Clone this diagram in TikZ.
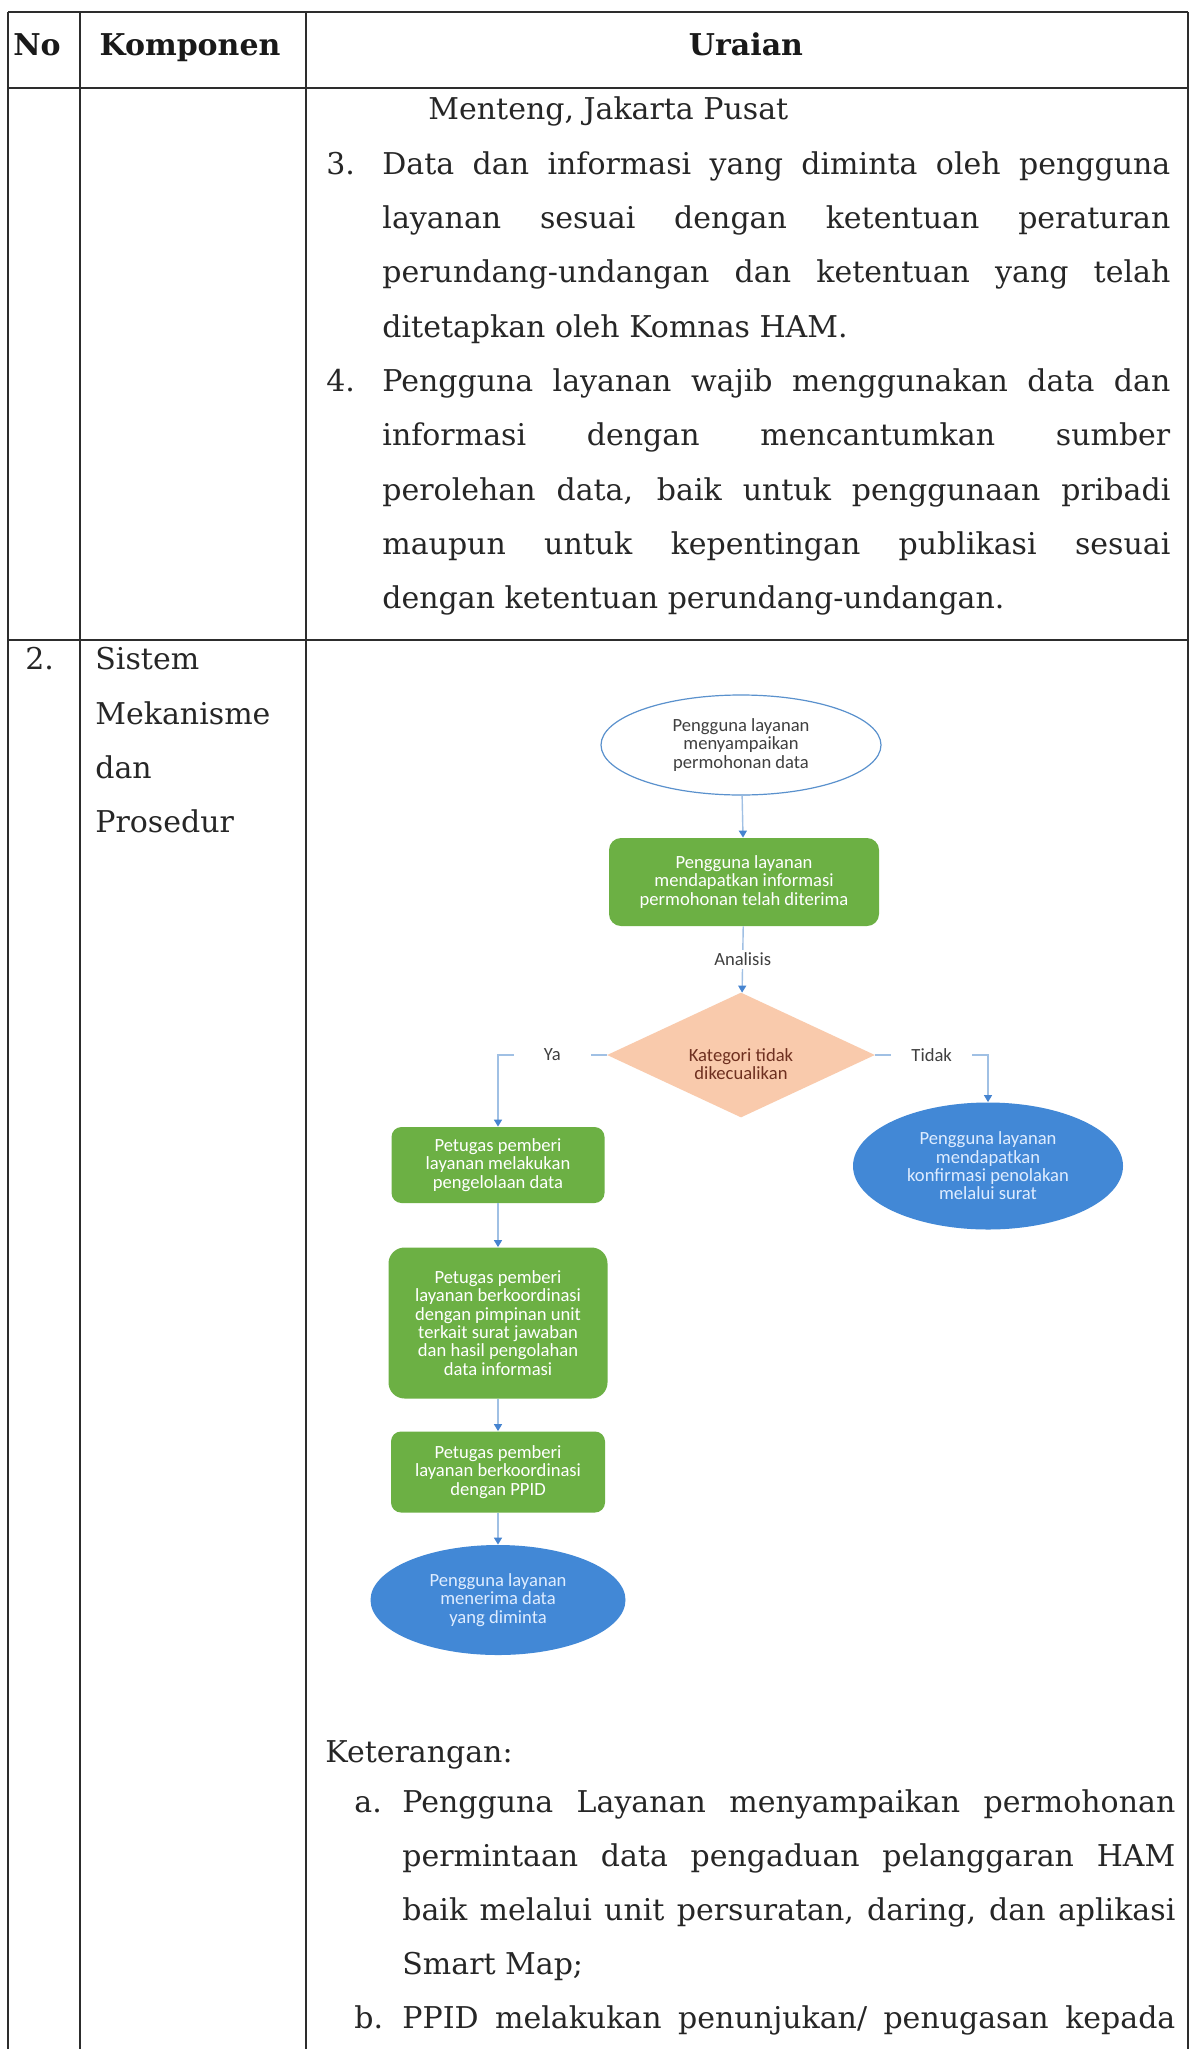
\documentclass[tikz,border=0pt]{standalone}
\usepackage{fontspec}
\setmainfont{DejaVu Serif}
\newfontfamily\flowfont{Carlito}
\usetikzlibrary{shapes.geometric,arrows.meta,calc}
\definecolor{tline}{RGB}{45,45,45}
\definecolor{fgreen}{RGB}{108,176,68}
\definecolor{peach}{RGB}{249,202,172}
\definecolor{dbrown}{RGB}{110,48,32}
\definecolor{fblue}{RGB}{66,136,214}
\definecolor{fbluetext}{RGB}{222,236,255}
\definecolor{outblue}{RGB}{90,145,205}
\definecolor{connc}{RGB}{160,192,228}
\definecolor{arrc}{RGB}{70,132,208}
\definecolor{labgray}{RGB}{64,64,64}
\newcommand{\jl}[1]{\makebox[394pt][s]{#1}}
\newcommand{\jk}[1]{\makebox[386.5pt][s]{#1}}
\begin{document}
\begin{tikzpicture}[x=0.5pt,y=-0.5pt,
  tab/.style={draw=tline,line width=0.9pt},
  body/.style={anchor=base west,inner sep=0pt,font=\fontsize{15}{18}\selectfont,text=black!85},
  head/.style={anchor=base,inner sep=0pt,font=\bfseries\fontsize{15}{18}\selectfont,text=black!90},
  flow/.style={font=\flowfont\fontsize{9.3}{9.15}\selectfont,align=center,inner sep=0pt},
  gbox/.style={flow,rectangle,rounded corners=5pt,fill=fgreen,text=white,minimum width=107pt},
  bell/.style={flow,ellipse,fill=fblue,text=fbluetext},
  lbl/.style={flow,fill=white,text=labgray,inner ysep=1.5pt},
  conn/.style={draw=connc,line width=0.7pt,-{Triangle[width=4pt,length=3.5pt,color=arrc]}}
]
\useasboundingbox (0,0) rectangle (1191,2049);
\fill[white] (0,0) rectangle (1191,2049);
% table
\draw[tab,line width=1.3pt] (8,12) -- (1188,12);
\draw[tab,line width=1.1pt] (8,88) -- (1188,88);
\draw[tab,line width=1.1pt] (8,640) -- (1188,640);
\draw[tab] (8,12) -- (8,2049);
\draw[tab] (80,12) -- (80,2049);
\draw[tab] (306,12) -- (306,2049);
\draw[tab] (1188,12) -- (1188,2049);
% header
\node[head] (hno) at (37,56) {No};
\node[head] (hkomp) at (190,56) {Komponen};
\node[head] (hur) at (746,56) {Uraian};
% row 1
\node[body] (t0) at (428,120) {Menteng, Jakarta Pusat};
\node[body] (n3) at (326,174.3) {3.};
\node[body] (t1) at (382,174.3) {\jl{Data dan informasi yang diminta oleh pengguna}};
\node[body] (t2) at (382,228.6) {\jl{layanan sesuai dengan ketentuan peraturan}};
\node[body] (t3) at (382,282.9) {\jl{perundang-undangan dan ketentuan yang telah}};
\node[body] (t4) at (382,337.2) {ditetapkan oleh Komnas HAM.};
\node[body] (n4) at (326,391.5) {4.};
\node[body] (t5) at (382,391.5) {\jl{Pengguna layanan wajib menggunakan data dan}};
\node[body] (t6) at (382,445.8) {\jl{informasi dengan mencantumkan sumber}};
\node[body] (t7) at (382,500.1) {\jl{perolehan data, baik untuk penggunaan pribadi}};
\node[body] (t8) at (382,554.4) {\jl{maupun untuk kepentingan publikasi sesuai}};
\node[body] (t9) at (382,608.7) {dengan ketentuan perundang-undangan.};
% row 2 left cells
\node[body] (n2) at (25,669) {2.};
\node[body] (k1) at (95,669) {Sistem};
\node[body] (k2) at (95,724) {Mekanisme};
\node[body] (k3) at (95,778) {dan};
\node[body] (k4) at (95,832) {Prosedur};
% flowchart
\node[flow,ellipse,draw=outblue,line width=0.6pt,fill=white,text=labgray,
      minimum width=140pt,minimum height=50pt] (start) at (741,745)
      {Pengguna layanan\\menyampaikan\\permohonan data};
\node[gbox,minimum width=135pt,minimum height=44pt,rounded corners=6pt] (b1) at (744,882)
      {Pengguna layanan\\mendapatkan informasi\\permohonan telah diterima};
\node[flow,diamond,fill=peach,minimum width=134pt,minimum height=62.5pt] (dia) at (741,1055) {};
\node[flow,text=dbrown] (diatext) at (741,1064) {Kategori tidak\\dikecualikan};
\node[bell,minimum width=135pt,minimum height=63.5pt] (rej) at (988,1166)
      {Pengguna layanan\\mendapatkan\\konfirmasi penolakan\\melalui surat};
\node[gbox,minimum width=106.5pt,minimum height=38pt] (l1) at (498,1165)
      {Petugas pemberi\\layanan melakukan\\pengelolaan data};
\node[gbox,minimum width=109.5pt,minimum height=75.5pt,rounded corners=8pt] (l2) at (498,1323)
      {Petugas pemberi\\layanan berkoordinasi\\dengan pimpinan unit\\terkait surat jawaban\\dan hasil pengolahan\\data informasi};
\node[gbox,minimum width=107pt,minimum height=40.5pt] (l3) at (498,1472)
      {Petugas pemberi\\layanan berkoordinasi\\dengan PPID};
\node[bell,minimum width=127.5pt,minimum height=55pt] (fin) at (498,1600)
      {Pengguna layanan\\menerima data\\yang diminta};
% connectors
\draw[conn] (start) -- (b1);
\draw[conn] (b1) -- node[lbl,inner xsep=3pt] (ana) {Analisis} (dia);
\draw[conn] (dia.west) -- node[lbl,inner xsep=15pt] (ya) {Ya} (dia.west -| l1.north) -- (l1.north);
\draw[conn] (dia.east) -- node[lbl,inner xsep=10pt] (tidak) {Tidak} (dia.east -| rej.north) -- (rej.north);
\draw[conn] (l1) -- (l2);
\draw[conn] (l2) -- (l3);
\draw[conn] (l3) -- (fin);
% keterangan
\node[body] (ket) at (325,1762) {Keterangan:};
\node[body] (na) at (354,1812) {a.};
\node[body] (a1) at (402,1812) {\jk{Pengguna Layanan menyampaikan permohonan}};
\node[body] (a2) at (402,1866) {\jk{permintaan data pengaduan pelanggaran HAM}};
\node[body] (a3) at (402,1920) {\jk{baik melalui unit persuratan, daring, dan aplikasi}};
\node[body] (a4) at (402,1974) {Smart Map;};
\node[body] (nb) at (354,2028) {b.};
\node[body] (b1t) at (402,2028) {\jk{PPID melakukan penunjukan/ penugasan kepada}};
\end{tikzpicture}
\end{document}
